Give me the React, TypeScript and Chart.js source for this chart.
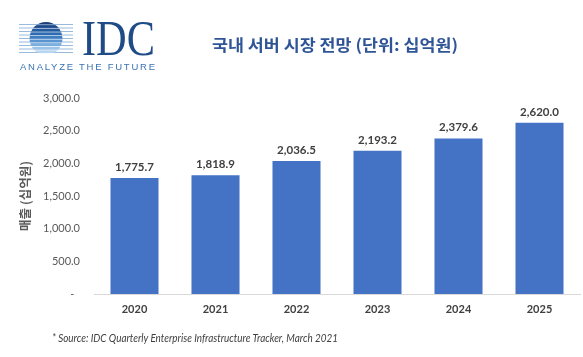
import React, { useEffect, useRef } from "react";
import { Chart, registerables } from "chart.js";

Chart.register(...registerables);

const categories = ["2020", "2021", "2022", "2023", "2024", "2025"];
const revenue = [1775.7, 1818.9, 2036.5, 2193.2, 2379.6, 2620.0];
const yTicks = [0, 500, 1000, 1500, 2000, 2500, 3000];

const titleText = "국내 서버 시장 전망 (단위: 십억원)";
const yAxisTitle = "매출 (십억원)";
const sourceText = "* Source: IDC Quarterly Enterprise Infrastructure Tracker, March 2021";

const fmt = (v: number) =>
  v.toLocaleString("en-US", { minimumFractionDigits: 1, maximumFractionDigits: 1 });

const dataLabels = {
  id: "dataLabels",
  afterDatasetsDraw(chart: any) {
    const ctx = chart.ctx;
    const meta = chart.getDatasetMeta(0);
    ctx.save();
    ctx.font = "bold 11.5px Lato";
    ctx.fillStyle = "#404040";
    ctx.textAlign = "center";
    ctx.textBaseline = "bottom";
    meta.data.forEach((el: any, i: number) => {
      ctx.fillText(fmt(revenue[i]), el.x, el.y - 5);
    });
    ctx.restore();
  },
};

const stripeColors = ["#1d3f7a", "#1f4a8a", "#255a9d", "#2f6bb0", "#3f7fc0", "#5a95cf", "#7aaede", "#9cc4ea", "#b9d6f1"];

export default function App() {
  const ref = useRef<HTMLCanvasElement>(null);

  useEffect(() => {
    if (!ref.current) return;
    const chart = new Chart(ref.current, {
      type: "bar",
      data: {
        labels: categories,
        datasets: [
          {
            data: revenue,
            backgroundColor: "#4472C4",
            borderWidth: 0,
            barPercentage: 0.593,
            categoryPercentage: 1,
          },
        ],
      },
      options: {
        animation: false,
        responsive: false,
        layout: { padding: { top: 98, left: 0, right: 3, bottom: 0 } },
        plugins: {
          legend: { display: false },
          tooltip: { enabled: false },
          title: { display: false },
        },
        scales: {
          x: {
            afterFit: (scale: any) => {
              scale.height = 63;
            },
            grid: { display: false, drawTicks: false },
            border: { display: true, color: "#d9d9d9", width: 1 },
            ticks: {
              padding: 9,
              color: "#404040",
              font: { family: "Lato", size: 11, weight: "bold" },
            },
          },
          y: {
            min: 0,
            max: 3000,
            afterFit: (scale: any) => {
              scale.width = 94;
            },
            afterBuildTicks: (scale: any) => {
              scale.ticks = yTicks.map((v) => ({ value: v }));
            },
            grid: { display: false, drawTicks: false },
            border: { display: false },
            ticks: {
              padding: 14,
              color: "#595959",
              font: { family: "Lato", size: 11 },
              callback: (v: any) => (Number(v) === 0 ? "-  " : fmt(Number(v))),
            },
          },
        },
      },
      plugins: [dataLabels],
    } as any);
    return () => chart.destroy();
  }, []);

  return (
    <div style={{ position: "fixed", left: 0, top: 0, width: 583, height: 357, background: "#fff" }}>
      <canvas ref={ref} width={583} height={357} style={{ position: "absolute", left: 0, top: 0 }} />
      <svg width={583} height={357} style={{ position: "absolute", left: 0, top: 0, pointerEvents: "none" }}>
        <defs>
          <clipPath id="globe">
            <circle cx={46} cy={38.5} r={16.5} />
          </clipPath>
        </defs>
        {[24, 27.5, 31, 34.5, 38, 41.5, 45, 48.5, 52].map((y, i) => (
          <line key={"l" + i} x1={19} x2={73} y1={y + 0.5} y2={y + 0.5} stroke="#8db2db" strokeWidth={0.9} />
        ))}
        <g clipPath="url(#globe)">
          {stripeColors.map((c, i) => (
            <rect key={"s" + i} x={28} y={21.5 + i * 3.6} width={36} height={2.8} fill={c} />
          ))}
        </g>
        <text x={82} y={55} fontFamily="Liberation Serif" fontSize={50} fill="#1f4b86" textLength={73} lengthAdjust="spacingAndGlyphs">
          IDC
        </text>
        <text x={20} y={70} fontFamily="Liberation Sans" fontSize={9.5} fill="#3a72b3" textLength={135} lengthAdjust="spacing">
          ANALYZE THE FUTURE
        </text>
        <text x={212} y={51} fontFamily="Noto Sans CJK KR" fontWeight="bold" fontSize={16} fill="#2f5597" textLength={246} lengthAdjust="spacingAndGlyphs">
          {titleText}
        </text>
        <text
          x={0}
          y={0}
          transform="translate(29.5 196) rotate(-90)"
          textAnchor="middle"
          fontFamily="Noto Sans CJK KR"
          fontWeight="bold"
          fontSize={12.5}
          fill="#595959"
        >
          {yAxisTitle}
        </text>
        <text x={52} y={342} fontFamily="Lato" fontStyle="italic" fontSize={11} fill="#404040" textLength={286} lengthAdjust="spacingAndGlyphs">
          {sourceText}
        </text>
      </svg>
    </div>
  );
}
